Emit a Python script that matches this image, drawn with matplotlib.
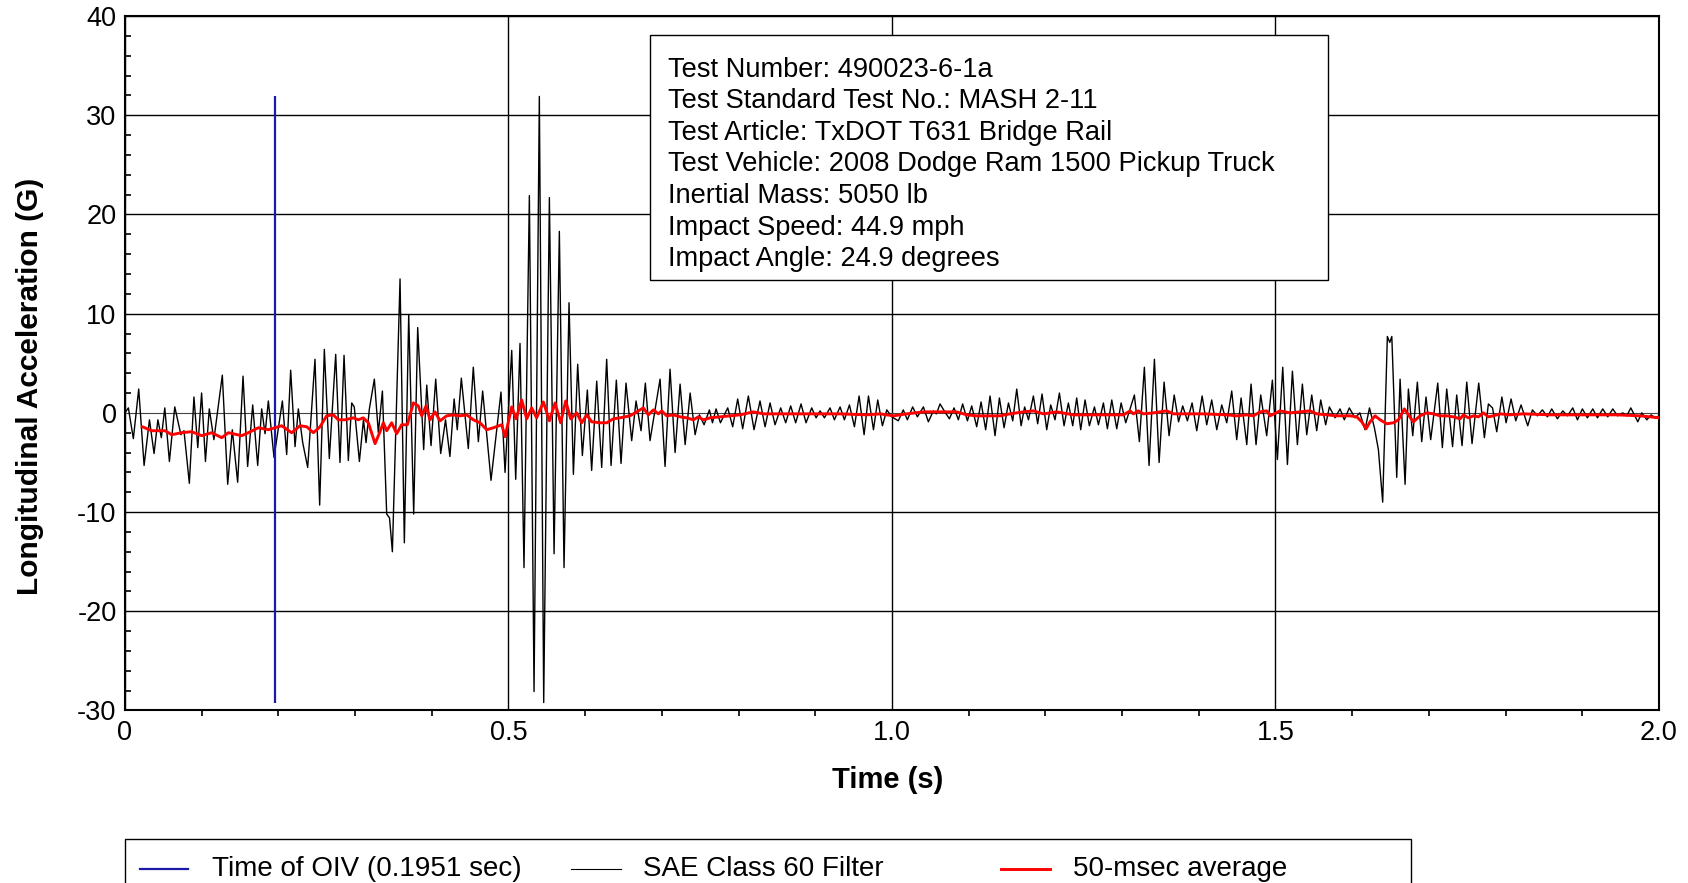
import matplotlib
matplotlib.use("Agg")
import matplotlib.pyplot as plt
from matplotlib.patches import Rectangle
from matplotlib.lines import Line2D
from matplotlib.ticker import MultipleLocator

# SAE class 60 filtered signal, peaks and valleys (time s, accel G)
sae_t = [0.000, 0.0045, 0.011, 0.018, 0.025, 0.032, 0.038, 0.043, 0.0475, 0.052,
         0.058, 0.065, 0.073, 0.077, 0.084, 0.090, 0.095, 0.100, 0.105, 0.110,
         0.116, 0.127, 0.134, 0.140, 0.147, 0.154, 0.160, 0.1666, 0.1731, 0.1783,
         0.1827, 0.187, 0.1944, 0.2053, 0.2109, 0.2161, 0.2218, 0.2261, 0.2318, 0.2383,
         0.2478, 0.2539, 0.2600, 0.2665, 0.2748, 0.2804, 0.2857, 0.2913, 0.2957, 0.2990,
         0.3057, 0.3110, 0.3144, 0.3187, 0.3252, 0.3304, 0.3357, 0.3413, 0.3450, 0.3487,
         0.3587, 0.3643, 0.3700, 0.3765, 0.3817, 0.3895, 0.3935, 0.3991, 0.4052, 0.4117,
         0.4180, 0.4237, 0.4292, 0.4333, 0.4386, 0.4477, 0.4542, 0.4608, 0.4664, 0.4773,
         0.4903, 0.4956, 0.5043, 0.5095, 0.5151, 0.5203, 0.5273, 0.5334, 0.5403, 0.5460,
         0.5534, 0.5595, 0.5664, 0.5725, 0.5790, 0.5847, 0.5903, 0.5964, 0.6029, 0.6085,
         0.6151, 0.6216, 0.6281, 0.6338, 0.6407, 0.6468, 0.6533, 0.6607, 0.6664, 0.6729,
         0.6785, 0.6846, 0.6977, 0.7042, 0.7107, 0.7173, 0.7238, 0.7304, 0.7369, 0.7434,
         0.7490, 0.7551, 0.7620, 0.7660, 0.7707, 0.7764, 0.7859, 0.7924, 0.7989, 0.8054,
         0.8128, 0.8202, 0.8280, 0.8346, 0.8411, 0.8476, 0.8550, 0.8615, 0.8680, 0.8745,
         0.8815, 0.8880, 0.8954, 0.9011, 0.9063, 0.9120, 0.9193, 0.9250, 0.9324, 0.9380,
         0.9446, 0.9511, 0.9572, 0.9637, 0.9694, 0.9759, 0.9815, 0.9876, 0.9933, 0.9998,
         1.0083, 1.0148, 1.0201, 1.0270, 1.0332, 1.0410, 1.0475, 1.0540, 1.0580, 1.0627,
         1.0690, 1.0749, 1.0810, 1.0866, 1.0922, 1.0984, 1.1040, 1.1105, 1.1162, 1.1222,
         1.1279, 1.1344, 1.1401, 1.1462, 1.1519, 1.1575, 1.1627, 1.1684, 1.1730, 1.1780,
         1.1844, 1.1900, 1.1957, 1.2018, 1.2070, 1.2126, 1.2183, 1.2244, 1.2300, 1.2357,
         1.2409, 1.2461, 1.2518, 1.2574, 1.2640, 1.2692, 1.2757, 1.2809, 1.2866, 1.2931,
         1.2988, 1.3048, 1.3161, 1.3226, 1.3291, 1.3352, 1.3422, 1.3483, 1.3548, 1.3613,
         1.3680, 1.3737, 1.3791, 1.3852, 1.3913, 1.3974, 1.4044, 1.4104, 1.4169, 1.4235,
         1.4300, 1.4365, 1.4430, 1.4495, 1.4552, 1.4626, 1.4682, 1.4747, 1.4808, 1.4886,
         1.4960, 1.5025, 1.5095, 1.5156, 1.5221, 1.5286, 1.5351, 1.5408, 1.5473, 1.5538,
         1.5590, 1.5655, 1.5703, 1.5777, 1.5842, 1.5898, 1.5963, 1.6037, 1.6100, 1.6168,
         1.6226, 1.6290, 1.6342, 1.6398, 1.6459, 1.6490, 1.6517, 1.6581, 1.6625, 1.6690,
         1.6733, 1.6790, 1.6850, 1.6907, 1.6963, 1.7024, 1.7116, 1.7176, 1.7233, 1.7309,
         1.7363, 1.7433, 1.7494, 1.7563, 1.7650, 1.7724, 1.7776, 1.7830, 1.7885, 1.7952,
         1.8007, 1.8072, 1.8133, 1.8202, 1.8289, 1.8350, 1.8415, 1.8480, 1.8546, 1.8602,
         1.8676, 1.8746, 1.8807, 1.8876, 1.8937, 1.9002, 1.9067, 1.9137, 1.9198, 1.9267,
         1.9332, 1.9398, 1.9459, 1.9528, 1.9580, 1.9633, 1.9724, 1.9776, 1.9842, 1.9898,
         1.9950, 2.0000]
sae_g = [0.0, 0.5, -2.6, 2.4, -5.3, -0.7, -4.1, -0.7, -2.5, 0.5,
         -4.9, 0.6, -2.2, -1.8, -7.1, 1.6, -3.5, 2.0, -4.9, 0.4,
         -2.7, 3.8, -7.2, -1.7, -7.0, 3.7, -5.4, 0.8, -5.3, 0.4,
         -2.1, 1.2, -4.5, 1.2, -4.2, 4.3, -3.4, 0.4, -3.0, -5.5,
         5.4, -9.3, 6.4, -4.6, 5.9, -5.0, 5.8, -4.8, 1.0, 0.6,
         -4.9, -0.7, -3.0, 0.4, 3.4, -2.0, 2.2, -10.2, -10.6, -14.0,
         13.5, -13.1, 9.9, -10.2, 8.6, -3.7, 2.8, -3.3, 3.4, -4.1,
         -0.7, -4.4, 1.4, -1.7, 3.5, -3.6, 4.6, -2.9, 2.2, -6.8,
         2.1, -6.0, 6.3, -6.7, 7.0, -15.6, 21.9, -28.1, 31.9, -29.2,
         21.7, -14.2, 18.3, -15.6, 11.1, -6.2, 4.9, -4.3, 2.3, -5.8,
         3.2, -5.5, 5.4, -5.3, 3.3, -5.1, 3.0, -2.8, 1.2, -1.8,
         3.0, -2.8, 3.4, -5.4, 4.4, -4.0, 2.9, -3.2, 2.0, -2.2,
         -0.2, -1.2, 0.3, -1.0, 0.4, -1.0, 0.5, -1.4, 1.4, -1.6,
         1.7, -1.7, 1.2, -1.4, 1.0, -1.2, 0.5, -1.0, 0.7, -1.0,
         0.9, -1.0, 0.5, -0.5, 0.2, -0.5, 0.5, -0.7, 0.6, -0.7,
         0.8, -1.4, 1.7, -2.2, 1.7, -1.7, 1.3, -1.3, 0.3, -0.4,
         -0.8, 0.3, -0.7, 0.6, -0.4, 0.6, -0.9, 0.2, -0.1, 0.9,
         0.1, -0.6, 0.5, -0.7, 0.9, -0.8, 0.7, -1.4, 1.1, -1.7,
         1.7, -2.3, 1.5, -1.5, 1.0, -0.8, 2.4, -1.3, 0.6, -0.7,
         1.7, -1.1, 1.9, -1.7, 0.8, -0.7, 2.0, -1.3, 1.0, -1.3,
         1.5, -1.7, 1.3, -1.3, 0.6, -1.2, 1.0, -1.6, 1.3, -1.6,
         1.0, -1.0, 1.8, -2.9, 4.6, -5.3, 5.4, -5.0, 3.1, -2.3,
         1.8, -0.9, 0.7, -0.8, 1.0, -1.8, 1.7, -1.2, 1.3, -1.7,
         0.8, -1.0, 2.2, -2.7, 1.5, -3.2, 2.9, -3.2, 1.8, -2.3,
         3.3, -4.7, 4.6, -5.2, 4.2, -3.2, 2.9, -2.2, 1.8, -1.8,
         1.3, -1.2, 0.6, -0.5, 0.4, -0.7, 0.5, -0.5, 0.0, -1.7,
         0.5, -1.5, -3.7, -9.0, 7.7, 7.1, 7.7, -6.5, 3.4, -7.2,
         2.4, -2.3, 3.1, -2.9, 1.6, -2.7, 3.0, -3.5, 2.4, -3.4,
         1.8, -3.3, 3.1, -3.1, 3.0, -2.5, 0.9, 0.5, -1.9, 1.6,
         -1.0, 1.4, -0.8, 0.8, -1.3, 0.3, -0.3, 0.3, -0.4, 0.4,
         -0.6, 0.2, -0.3, 0.5, -0.7, 0.4, -0.5, 0.4, -0.5, 0.4,
         -0.4, 0.4, -0.3, 0.0, -0.3, 0.5, -0.9, 0.0, -0.7, -0.2,
         -0.5, -0.3]

# 50-msec moving average
avg_t = [0.0227, 0.0349, 0.0523, 0.0610, 0.0740, 0.0870, 0.1001, 0.1131, 0.1262, 0.1349,
         0.1522, 0.1609, 0.1740, 0.1870, 0.2044, 0.2174, 0.2283, 0.2370, 0.2457, 0.2544,
         0.2630, 0.2717, 0.2782, 0.2869, 0.2978, 0.3043, 0.3108, 0.3174, 0.3261, 0.3326,
         0.3369, 0.3413, 0.3478, 0.3543, 0.3608, 0.3682, 0.3761, 0.3825, 0.3869, 0.3926,
         0.3978, 0.4043, 0.4108, 0.4195, 0.4282, 0.4369, 0.4456, 0.4543, 0.4630, 0.4717,
         0.4804, 0.4913, 0.4956, 0.5043, 0.5099, 0.5173, 0.5238, 0.5303, 0.5368, 0.5456,
         0.5534, 0.5608, 0.5681, 0.5747, 0.5812, 0.5890, 0.5955, 0.6021, 0.6086, 0.6194,
         0.6281, 0.6368, 0.6455, 0.6585, 0.6759, 0.6824, 0.6889, 0.6955, 0.6998, 0.7064,
         0.7150, 0.7238, 0.7324, 0.7411, 0.7476, 0.7542, 0.7629, 0.7759, 0.7889, 0.8020,
         0.8193, 0.8324, 0.8628, 0.8976, 0.9324, 0.9672, 0.9846, 1.0020, 1.0192, 1.0410,
         1.0844, 1.0975, 1.1105, 1.1279, 1.1410, 1.1540, 1.1714, 1.1844, 1.1975, 1.2149,
         1.2366, 1.2801, 1.3018, 1.3105, 1.3148, 1.3213, 1.3278, 1.3409, 1.3583, 1.3670,
         1.4061, 1.4365, 1.4495, 1.4626, 1.4713, 1.4800, 1.4886, 1.4930, 1.5008, 1.5060,
         1.5191, 1.5321, 1.5451, 1.5538, 1.5669, 1.5799, 1.5973, 1.6060, 1.6125, 1.6182,
         1.6234, 1.6299, 1.6364, 1.6451, 1.6538, 1.6603, 1.6681, 1.6733, 1.6798, 1.6885,
         1.6972, 1.7059, 1.7146, 1.7233, 1.7320, 1.7407, 1.7450, 1.7515, 1.7581, 1.7646,
         1.7711, 1.7776, 1.7841, 1.7928, 1.8059, 1.8232, 1.8580, 1.9015, 1.9450, 1.9754,
         1.9885, 2.0000]
avg_g = [-1.4, -1.8, -1.8, -2.2, -2.0, -1.9, -2.3, -2.0, -2.5, -2.0,
         -2.3, -2.0, -1.5, -1.7, -1.3, -2.0, -1.3, -1.4, -2.0, -1.4,
         -0.3, -0.2, -0.7, -0.7, -0.5, -0.7, -0.5, -1.0, -3.1, -1.9,
         -1.0, -1.8, -1.0, -2.1, -1.2, -1.2, 1.0, 0.7, -0.3, 0.7,
         -0.7, 0.1, -0.8, -0.3, -0.2, -0.3, -0.2, -0.7, -1.0, -1.7,
         -1.5, -1.2, -2.4, 0.6, -0.6, 1.3, -0.6, 0.5, -0.5, 1.1,
         -0.8, 1.0, -1.0, 1.2, -0.6, 0.0, -1.0, -0.2, -0.9, -1.0,
         -1.0, -0.6, -0.5, -0.3, 0.5, -0.2, 0.3, -0.1, 0.2, -0.3,
         -0.2, -0.4, -0.5, -0.7, -0.4, -0.7, -0.5, -0.4, -0.3, -0.2,
         0.1, -0.1, -0.1, -0.1, -0.1, -0.2, -0.1, -0.3, -0.1, 0.1,
         0.1, -0.2, -0.3, -0.3, -0.3, -0.1, 0.1, 0.2, -0.1, 0.1,
         -0.2, -0.2, -0.2, 0.2, -0.1, 0.2, -0.1, 0.0, 0.2, -0.1,
         -0.1, -0.2, -0.3, -0.2, -0.3, 0.1, 0.2, -0.3, 0.0, 0.2,
         0.0, 0.1, 0.2, -0.1, -0.2, -0.3, -0.3, -0.4, -0.9, -1.6,
         -0.9, -0.3, -0.7, -1.1, -1.0, -0.7, 0.4, -0.2, -0.9, -0.3,
         0.0, -0.1, -0.3, -0.3, -0.4, -0.6, -0.2, -0.5, -0.3, -0.4,
         0.0, -0.4, -0.3, -0.1, -0.2, -0.1, -0.2, -0.2, -0.2, -0.3,
         -0.4, -0.5]

oiv_time = 0.1951

x_ticks = [0, 0.5, 1.0, 1.5, 2.0]
x_tick_labels = ["0", "0.5", "1.0", "1.5", "2.0"]
y_ticks = [-30, -20, -10, 0, 10, 20, 30, 40]

legend_labels = ["Time of OIV (0.1951 sec)", "SAE Class 60 Filter", "50-msec average"]
info_lines = ["Test Number: 490023-6-1a",
              "Test Standard Test No.: MASH 2-11",
              "Test Article: TxDOT T631 Bridge Rail",
              "Test Vehicle: 2008 Dodge Ram 1500 Pickup Truck",
              "Inertial Mass: 5050 lb",
              "Impact Speed: 44.9 mph",
              "Impact Angle: 24.9 degrees"]

plt.rcParams["font.family"] = ["Liberation Sans", "DejaVu Sans"]
plt.rcParams["axes.unicode_minus"] = False

fig = plt.figure(figsize=(16.88, 8.83), dpi=100)
ax = fig.add_axes([0.0740, 0.1954, 0.9088, 0.7864])

blue = "#1a1aa6"
ax.plot(sae_t, sae_g, color="black", lw=1.0, solid_joinstyle="round", zorder=3)
ax.vlines(oiv_time, min(sae_g), max(sae_g), color=blue, lw=1.6, zorder=4)
ax.plot(avg_t, avg_g, color="red", lw=2.1, zorder=5)

ax.set_xlim(0, 2)
ax.set_ylim(-30, 40)
ax.set_xticks(x_ticks)
ax.set_xticklabels(x_tick_labels)
ax.xaxis.set_minor_locator(MultipleLocator(0.1))
ax.set_yticks(y_ticks)
ax.yaxis.set_minor_locator(MultipleLocator(2))
ax.tick_params(axis="x", which="major", length=0, labelsize=19.5, pad=7)
ax.tick_params(axis="x", which="minor", direction="out", length=4, width=1.2)
ax.tick_params(axis="y", which="major", length=0, labelsize=19.5, pad=6)
ax.tick_params(axis="y", which="minor", direction="in", length=4, width=1.2)

ax.grid(True, which="major", color="black", lw=1.0)
for val, gl in zip(y_ticks, ax.get_ygridlines()):
    if val == 0:
        gl.set_color("#444444")
        gl.set_linewidth(0.8)
for sp in ax.spines.values():
    sp.set_linewidth(1.5)

ax.set_xlabel("Time (s)", fontsize=21, fontweight="bold", va="center")
ax.xaxis.set_label_coords(0.497, -0.100)
ax.set_ylabel("Longitudinal Acceleration (G)", fontsize=21.5, fontweight="bold", va="center")
ax.yaxis.set_label_coords(-0.0619, 0.4666)

# test info box
ax.add_patch(Rectangle((0.3422, 0.6200), 0.4418, 0.3528, transform=ax.transAxes,
                       facecolor="white", edgecolor="black", lw=1.0, zorder=6))
for i, line in enumerate(info_lines):
    ax.text(0.3538, 0.9127 - i * 0.0455, line, transform=ax.transAxes,
            fontsize=19.6, va="baseline", ha="left", zorder=7)

# legend box at the bottom (runs off the lower edge)
W, H = 1688.0, 883.0
fig.add_artist(Rectangle((125 / W, -0.05), (1411 - 125) / W, 0.05 + 1 - 839 / H,
                         transform=fig.transFigure, facecolor="white",
                         edgecolor="black", lw=1.0))
ly = 1 - 868.5 / H
handles = [(140, 188, blue, 1.6), (571, 621, "black", 0.8), (1001, 1050, "red", 2.1)]
text_x = [212, 643, 1073]
for (x0, x1, c, lw), tx, lab in zip(handles, text_x, legend_labels):
    fig.add_artist(Line2D([x0 / W, x1 / W], [ly, ly], transform=fig.transFigure,
                          color=c, lw=lw))
    fig.text(tx / W, ly, lab, fontsize=20, va="center", ha="left")

fig.savefig("out.png", dpi=100)
